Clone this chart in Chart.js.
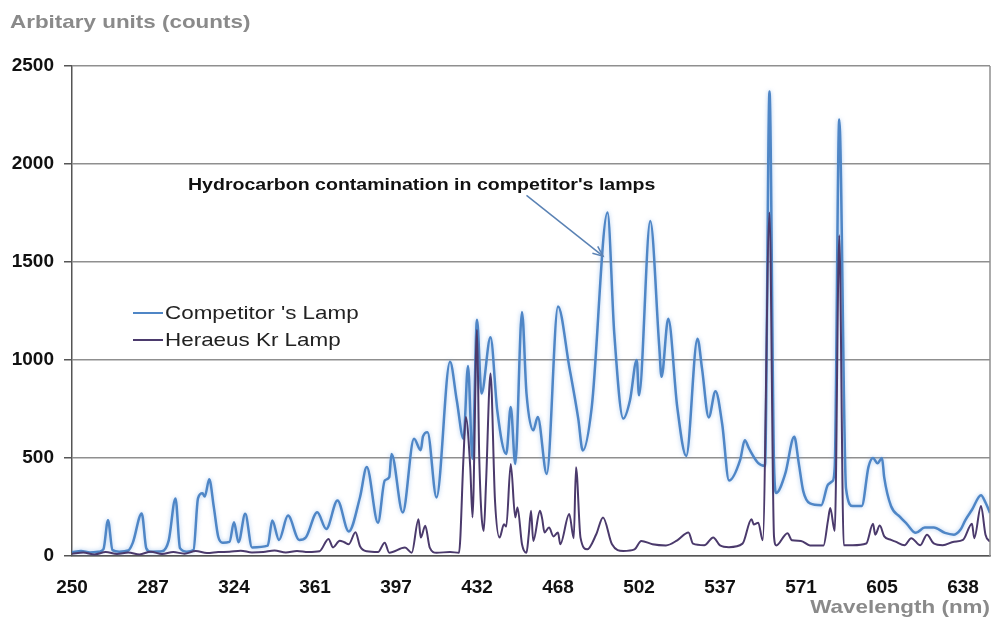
<!DOCTYPE html>
<html>
<head>
<meta charset="utf-8">
<script src="https://cdn.jsdelivr.net/npm/chart.js@4.4.0/dist/chart.umd.min.js"></script>
<style>
  html, body { margin: 0; padding: 0; background: #fff; }
</style>
</head>
<body>
<canvas id="spectrumChart" width="993" height="621"></canvas>
<script>
// wavelength labels, one every 36 spectrometer channels
const tickLabels = ['250', '287', '324', '361', '397', '432', '468', '502', '537', '571', '605', '638'];
const channelsPerLabel = 36;

const competitorChannel = [0, 4, 8, 12, 14, 16, 18, 21, 25, 27, 31, 33, 35, 40, 43, 46, 48, 51, 54, 56, 58, 59, 61, 63, 65, 67, 70,
  72, 74, 77, 80, 87, 89, 92, 96, 101, 104, 109, 113, 118, 123, 128, 131, 136, 139, 141, 142, 147, 152, 155, 156, 158, 162,
  168, 171, 174, 176, 178, 180, 182, 186, 189, 193, 195, 197, 200, 202, 205, 207, 211, 216, 221, 225, 227, 231, 238, 241,
  245, 248, 251, 252, 257, 261, 262, 265, 269, 273, 278, 280, 283, 286, 289, 292, 297, 299, 301, 305, 308, 310, 312, 313,
  317, 321, 323, 325, 328, 333, 336, 338, 339, 341, 344, 347, 351, 354, 356, 358, 360, 361, 364, 368, 371, 375, 379, 383,
  388, 392, 395, 397, 400, 404, 406, 408];
const competitorCounts = [20, 25, 18, 22, 35, 183, 30, 22, 28, 67, 217, 40, 22, 24, 80, 294, 40, 22, 30, 294, 320, 303, 392, 252, 98, 68, 72,
  172, 70, 215, 44, 53, 181, 82, 206, 82, 96, 223, 138, 283, 125, 300, 454, 170, 385, 402, 521, 222, 598, 540, 610, 632, 299,
  991, 795, 598, 969, 496, 1205, 829, 1116, 743, 520, 760, 470, 1245, 829, 641, 709, 419, 1273, 966, 701, 538, 760, 1752, 1137,
  701, 795, 1000, 820, 1709, 1068, 914, 1210, 760, 510, 1109, 957, 707, 841, 671, 385, 492, 590, 546, 474, 460, 2370, 470, 322,
  420, 608, 474, 331, 268, 259, 364, 382, 455, 2227, 345, 255, 255, 455, 500, 473, 500, 400, 255, 200, 164, 118, 145, 145,
  118, 109, 136, 182, 236, 310, 273, 220];

const heraeusChannel = [0, 5, 10, 15, 20, 25, 30, 35, 40, 45, 50, 55, 60, 65, 70, 75, 80, 85, 90, 95, 100, 105, 110, 114, 116, 119,
  121, 123, 126, 128, 131, 136, 139, 141, 148, 151, 154, 155, 157, 159, 162, 168, 172, 174, 175, 177, 178, 180, 181, 183,
  184, 186, 188, 190, 192, 193, 195, 197, 198, 200, 202, 203, 204, 205, 208, 209, 210, 212, 214, 216, 217, 221, 223, 224,
  226, 229, 233, 236, 240, 245, 250, 253, 258, 264, 269, 274, 276, 281, 285, 288, 292, 298, 302, 303, 305, 307, 310, 312,
  313, 318, 320, 324, 328, 334, 336, 337, 339, 341, 343, 347, 353, 356, 357, 359, 361, 364, 366, 370, 373, 377, 380, 383,
  387, 392, 396, 400, 401, 404, 406, 408];
const heraeusCounts = [12, 18, 8, 20, 10, 18, 8, 22, 10, 20, 12, 25, 15, 20, 22, 27, 18, 20, 28, 18, 26, 20, 24, 87, 44, 78,
  70, 60, 121, 50, 24, 20, 68, 17, 43, 17, 188, 94, 154, 43, 17, 20, 17, 504, 709, 453, 197, 1154, 500, 128,
  367, 931, 282, 94, 162, 150, 470, 197, 248, 60, 17, 111, 231, 77, 231, 188, 120, 145, 100, 120, 60, 214, 90, 453,
  94, 34, 111, 197, 60, 26, 34, 77, 60, 54, 80, 120, 63, 55, 95, 54, 45, 63, 188, 161, 170, 80, 1753, 100,
  54, 116, 80, 77, 54, 54, 182, 245, 127, 1636, 55, 55, 64, 164, 109, 155, 100, 82, 73, 55, 91, 55, 109, 64,
  55, 73, 82, 164, 91, 255, 109, 73];

const competitorData = competitorChannel.map((c, i) => ({ x: c, y: competitorCounts[i] }));
const heraeusData = heraeusChannel.map((c, i) => ({ x: c, y: heraeusCounts[i] }));

const blue = '#4f86c6';
const purple = '#4b3a6c';

// the source picture's text is drawn wide
function wideText(ctx, text, x, y, align, stretch) {
  ctx.save();
  ctx.translate(x, y);
  ctx.scale(stretch || 1.18, 1);
  ctx.textAlign = align;
  ctx.fillText(text, 0, 0);
  ctx.restore();
}

// soft halo under the competitor line
const glow = {
  id: 'glow',
  beforeDatasetDraw(chart, args) {
    if (args.index !== 0) return;
    chart.ctx.save();
    chart.ctx.shadowColor = 'rgba(120,170,230,0.6)';
    chart.ctx.shadowBlur = 4;
  },
  afterDatasetDraw(chart, args) {
    if (args.index !== 0) return;
    chart.ctx.restore();
  }
};

// legend, annotation, axis titles and right border
const overlay = {
  id: 'overlay',
  afterDraw(chart) {
    const ctx = chart.ctx;
    const area = chart.chartArea;
    const xs = chart.scales.x, ys = chart.scales.y;
    ctx.save();
    ctx.strokeStyle = '#8f8f8f';
    ctx.lineWidth = 1.5;
    ctx.beginPath();
    ctx.moveTo(area.right, area.top);
    ctx.lineTo(area.right, area.bottom);
    ctx.stroke();

    ctx.fillStyle = '#8a8a8a';
    ctx.font = 'bold 19px "Liberation Sans", Arial, sans-serif';
    ctx.textBaseline = 'middle';
    wideText(ctx, 'Arbitary units (counts)', 10, 23, 'left');
    wideText(ctx, 'Wavelength (nm)', 990, 608, 'right');

    // legend
    const items = [['Competitor \'s Lamp', blue], ['Heraeus Kr Lamp', purple]];
    ctx.font = '19px "Liberation Sans", Arial, sans-serif';
    items.forEach((it, i) => {
      const y = 313 + i * 27;
      ctx.strokeStyle = it[1];
      ctx.lineWidth = 2;
      ctx.beginPath();
      ctx.moveTo(133, y);
      ctx.lineTo(163, y);
      ctx.stroke();
      ctx.fillStyle = '#222';
      wideText(ctx, it[0], 165, y + 1, 'left');
    });

    // annotation
    ctx.font = 'bold 17px "Liberation Sans", Arial, sans-serif';
    ctx.fillStyle = '#111';
    wideText(ctx, 'Hydrocarbon contamination in competitor\'s lamps', 188, 185, 'left', 1.15);
    const x0 = xs.getPixelForValue(202), y0 = ys.getPixelForValue(1840);
    const x1 = xs.getPixelForValue(236), y1 = ys.getPixelForValue(1530);
    ctx.strokeStyle = '#5a82b4';
    ctx.lineWidth = 1.5;
    ctx.beginPath();
    ctx.moveTo(x0, y0);
    ctx.lineTo(x1, y1);
    ctx.stroke();
    const ang = Math.atan2(y1 - y0, x1 - x0);
    ctx.beginPath();
    ctx.moveTo(x1 - 11 * Math.cos(ang - 0.4), y1 - 11 * Math.sin(ang - 0.4));
    ctx.lineTo(x1, y1);
    ctx.lineTo(x1 - 11 * Math.cos(ang + 0.4), y1 - 11 * Math.sin(ang + 0.4));
    ctx.stroke();
    ctx.restore();
  }
};

const ctx = document.getElementById('spectrumChart').getContext('2d');
const spectrumChart = new Chart(ctx, {
  type: 'line',
  data: {
    datasets: [{
      label: 'Competitor \'s Lamp',
      data: competitorData,
      borderColor: blue,
      borderWidth: 2.5,
      pointRadius: 0,
      fill: false,
      cubicInterpolationMode: 'monotone',
      order: 2
    }, {
      label: 'Heraeus Kr Lamp',
      data: heraeusData,
      borderColor: purple,
      borderWidth: 2,
      pointRadius: 0,
      fill: false,
      cubicInterpolationMode: 'monotone',
      order: 1
    }]
  },
  options: {
    responsive: false,
    animation: false,
    layout: { padding: { top: 66, right: 3, left: 0, bottom: 0 } },
    plugins: { legend: { display: false }, tooltip: { enabled: false } },
    scales: {
      x: {
        type: 'linear',
        min: 0,
        max: 408,
        afterFit: (s) => { s.height = 65; s.paddingRight = 0; },
        grid: { display: false },
        border: { display: true, color: '#555', width: 1.5 },
        ticks: {
          stepSize: channelsPerLabel,
          includeBounds: false,
          autoSkip: false,
          maxRotation: 0,
          padding: 12,
          color: '#111',
          font: { family: '"Liberation Sans", Arial, sans-serif', size: 19, weight: 'bold' },
          callback: (v) => (v % channelsPerLabel === 0 ? tickLabels[v / channelsPerLabel] : '')
        }
      },
      y: {
        min: 0,
        max: 2500,
        afterFit: (s) => { s.width = 72; },
        grid: { color: '#8f8f8f', lineWidth: 1.5, tickLength: 8, tickColor: '#555' },
        border: { display: true, color: '#555', width: 1.5 },
        ticks: {
          stepSize: 500,
          padding: 10,
          color: '#111',
          font: { family: '"Liberation Sans", Arial, sans-serif', size: 19, weight: 'bold' },
          callback: (v) => String(v)
        }
      }
    }
  },
  plugins: [glow, overlay]
});
</script>
</body>
</html>
